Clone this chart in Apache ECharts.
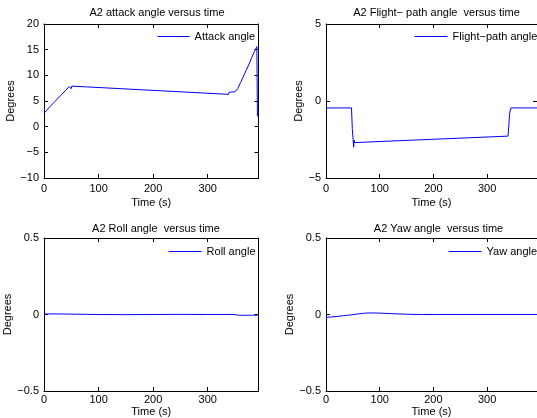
<!DOCTYPE html>
<html><head><meta charset="utf-8">
<script src="https://cdn.jsdelivr.net/npm/echarts@6/dist/echarts.min.js"></script>
<style>html,body{margin:0;padding:0;background:#fff}#c{width:537px;height:418px}</style>
</head><body><div id="c"></div><script>
// ---- data ----
const attackT = [0, 10, 20, 30, 40, 46, 48, 49, 50, 51, 52, 53, 338, 339, 342, 350, 355, 360, 365, 370, 375, 380, 385, 390, 391];
const attackV = [2.6, 3.8, 4.9, 6.0, 7.1, 7.8, 7.7, 7.5, 7.4, 7.9, 8.1, 8.0, 6.3, 6.7, 6.6, 6.8, 7.4, 8.6, 9.7, 10.9, 12.0, 13.3, 14.5, 15.6, 2.0];

const flightT = [0, 47.5, 49, 50.5, 51.5, 52.5, 53.5, 55, 339, 340.5, 342, 344.5, 393];
const flightV = [-0.45, -0.45, -1.8, -2.5, -3.0, -2.55, -2.7, -2.6, -2.28, -1.6, -0.8, -0.45, -0.45];

const rollT = [0, 20, 40, 60, 80, 100, 150, 200, 250, 300, 350, 351, 352, 353, 354, 355, 356, 357, 358, 359, 360, 361, 362, 363, 364, 365, 366, 367, 368, 369, 370, 371, 372, 373, 374, 375, 376, 377, 378, 379, 380, 381, 382, 383, 384, 385, 386, 387, 388, 389, 390, 391, 392, 393];
const rollV = [0.003, 0.004, 0.003, 0.002, 0.001, 0, -0.001, 0, 0.001, 0, 0, 0.003, -0.003, 0.004, -0.004, 0.005, -0.005, 0.005, -0.005, 0.005, -0.005, 0.005, -0.005, 0.005, -0.005, 0.005, -0.005, 0.005, -0.005, 0.005, -0.005, 0.005, -0.005, 0.005, -0.005, 0.005, -0.005, 0.005, -0.005, 0.005, -0.005, 0.005, -0.005, 0.005, -0.005, 0.005, -0.005, 0.005, -0.005, 0.005, -0.005, 0.005, -0.005, 0];

const yawT = [0, 10, 20, 30, 40, 50, 60, 70, 80, 90, 100, 120, 140, 160, 180, 200, 250, 300, 393];
const yawV = [-0.018, -0.016, -0.013, -0.009, -0.005, -0.001, 0.004, 0.008, 0.010, 0.010, 0.009, 0.006, 0.003, 0.001, 0, 0, 0, 0, 0];

const titles = ['A2 attack angle versus time', 'A2 Flight\u2212 path angle  versus time', 'A2 Roll angle  versus time', 'A2 Yaw angle  versus time'];
const names = ['Attack angle', 'Flight\u2212path angle', 'Roll angle', 'Yaw angle'];
const yMin = [-10, -5, -0.5, -0.5];
const yMax = [20, 5, 0.5, 0.5];
const yInterval = [5, 5, 0.5, 0.5];
const xMin = 0, xMax = 393, xInterval = 100;

// ---- layout ----
const grids = [
  {left: 44, top: 24, width: 214.5, height: 154},
  {left: 326, top: 24, width: 214.5, height: 154},
  {left: 44, top: 238, width: 214.5, height: 155},
  {left: 326, top: 238, width: 214.5, height: 155}
];
const titleCx = [152, 431.5, 151, 433.5];
const titleTop = [2, 2, 218, 218];
const legendPos = [[157, 31, 32], [414, 31, 33], [168, 246, 33], [448, 246, 33]];
const yNameGap = [21, 17, 25, 28];
const xNameGap = [19, 19, 15, 15];
const xLabelMargin = [5, 5, 3, 3];

const FONT = 'Liberation Sans, Arial, Helvetica, sans-serif';
const BLUE = '#0000ff';
const minus = v => String(v).replace('-', '\u2212');
const axLine = {show: true, onZero: false, lineStyle: {color: '#000', width: 1}};
const axTick = {show: true, inside: true, length: 4, lineStyle: {color: '#000', width: 1}};

const pairs = (t, v) => t.map((x, i) => [x, v[i]]);
const seriesData = [pairs(attackT, attackV), pairs(flightT, flightV), pairs(rollT, rollV), pairs(yawT, yawV)];

const xAxis = [], yAxis = [], series = [], title = [], legend = [];
for (let i = 0; i < 4; i++) {
  xAxis.push({
    type: 'value', gridIndex: i, min: xMin, max: xMax, interval: xInterval, position: 'bottom',
    axisLine: axLine, axisTick: axTick, splitLine: {show: false},
    axisLabel: {showMaxLabel: false, color: '#000', fontSize: 11, fontFamily: FONT, margin: xLabelMargin[i]},
    name: 'Time (s)', nameLocation: 'middle', nameGap: xNameGap[i],
    nameTextStyle: {color: '#000', fontSize: 11, fontFamily: FONT, verticalAlign: 'top'}
  });
  xAxis.push({
    type: 'value', gridIndex: i, min: xMin, max: xMax, interval: xInterval, position: 'top',
    axisLine: axLine, axisTick: axTick, splitLine: {show: false}, axisLabel: {show: false}
  });
  yAxis.push({
    type: 'value', gridIndex: i, min: yMin[i], max: yMax[i], interval: yInterval[i], position: 'left',
    axisLine: axLine, axisTick: axTick, splitLine: {show: false},
    axisLabel: {color: '#000', fontSize: 11, fontFamily: FONT, margin: 5, formatter: minus},
    name: 'Degrees', nameLocation: 'middle', nameGap: yNameGap[i],
    nameTextStyle: {color: '#000', fontSize: 11, fontFamily: FONT}
  });
  yAxis.push({
    type: 'value', gridIndex: i, min: yMin[i], max: yMax[i], interval: yInterval[i], position: 'right',
    axisLine: axLine, axisTick: axTick, splitLine: {show: false}, axisLabel: {show: false}
  });
  series.push({
    type: 'line', name: names[i], xAxisIndex: 2 * i, yAxisIndex: 2 * i, color: BLUE,
    data: seriesData[i], symbol: 'none', showSymbol: false, animation: false,
    lineStyle: {color: BLUE, width: 1}, itemStyle: {color: BLUE}
  });
  title.push({
    text: titles[i], left: titleCx[i], top: titleTop[i], textAlign: 'center',
    textStyle: {color: '#000', fontSize: 11, fontWeight: 'normal', fontFamily: FONT}
  });
  legend.push({
    data: [names[i]],
    left: legendPos[i][0], top: legendPos[i][1], padding: 0,
    itemWidth: legendPos[i][2], itemHeight: 10,
    itemStyle: {opacity: 0},
    lineStyle: {color: BLUE, width: 1.2, opacity: 1},
    textStyle: {color: '#000', fontSize: 11, fontFamily: FONT}
  });
}

const chart = echarts.init(document.getElementById('c'), null, {renderer: 'canvas'});
chart.setOption({
  animation: false, backgroundColor: '#fff', color: [BLUE],
  grid: grids, xAxis, yAxis, series, title, legend
});
</script></body></html>
